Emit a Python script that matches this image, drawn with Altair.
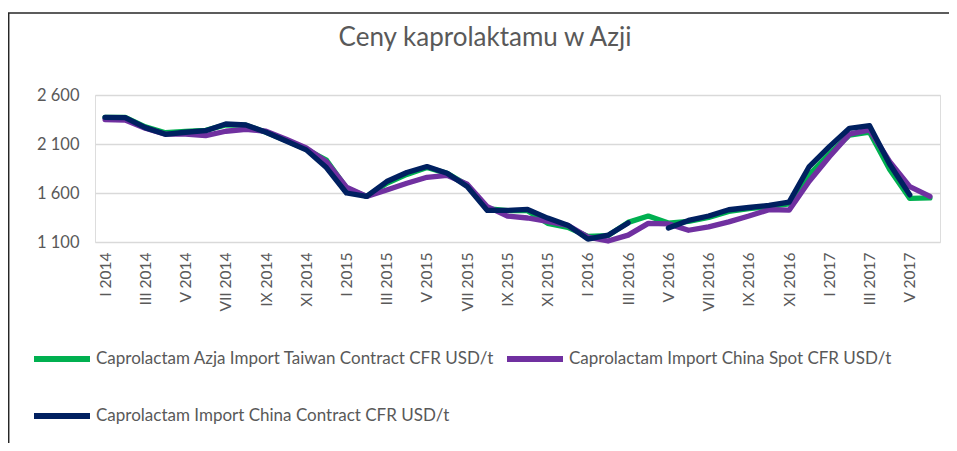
import altair as alt
import pandas as pd

title_text = "Ceny kaprolaktamu w Azji"
roman = ["I", "II", "III", "IV", "V", "VI", "VII", "VIII", "IX", "X", "XI", "XII"]
years = [2014, 2015, 2016, 2017]
months = [f"{m} {y}" for y in years for m in roman][:42]

series_names = [
    "Caprolactam Azja Import Taiwan Contract CFR USD/t",
    "Caprolactam Import China Spot CFR USD/t",
    "Caprolactam Import China Contract CFR USD/t",
]
colors = ["#00b050", "#7030a0", "#002060"]

taiwan_contract = [2372, 2372, 2275, 2215, 2228, 2240, 2295, 2292, 2220, 2135,
                   2045, 1935, 1650, 1565, 1700, 1790, 1860, 1800, 1680, 1440,
                   1420, 1420, 1290, 1250, 1157, 1165, 1300, 1365, 1293, 1310,
                   1350, 1412, 1440, 1460, 1490, 1785, 2000, 2190, 2220, 1840,
                   1545, 1550]
china_spot = [2350, 2345, 2260, 2200, 2200, 2185, 2230, 2250, 2230, 2150,
              2060, 1920, 1660, 1565, 1630, 1700, 1760, 1780, 1690, 1460,
              1365, 1345, 1310, 1270, 1150, 1110, 1170, 1290, 1285, 1220,
              1255, 1305, 1365, 1430, 1425, 1720, 1970, 2200, 2245, 1920,
              1665, 1565]
china_contract = [2372, 2370, 2267, 2199, 2220, 2236, 2304, 2294, 2220, 2131,
                  2040, 1860, 1600, 1565, 1717, 1809, 1870, 1802, 1666, 1422,
                  1422, 1432, 1344, 1272, 1130, 1170, 1295, None, 1242, 1320,
                  1365, 1429, 1452, 1473, 1507, 1870, 2073, 2260, 2287, 1894,
                  1581, None]

y_ticks = [1100, 1600, 2100, 2600]

wide = pd.DataFrame({
    "month": months,
    series_names[0]: taiwan_contract,
    series_names[1]: china_spot,
    series_names[2]: china_contract,
})
df = wide.melt(id_vars="month", var_name="series", value_name="value")

FONT = "Lato"
GREY = "#595959"
W, H = 845, 147

lines = alt.Chart(df).mark_line(strokeWidth=5.3, strokeJoin="round", strokeCap="round").encode(
    x=alt.X("month:O", sort=months, title=None,
            scale=alt.Scale(type="point", padding=0.5),
            axis=alt.Axis(values=months[::2], labelAngle=270, labelColor=GREY,
                          labelFont=FONT, labelFontSize=15.5, labelPadding=10,
                          ticks=False, domain=False, grid=False)),
    y=alt.Y("value:Q", title=None,
            scale=alt.Scale(domain=[1100, 2600], nice=False, zero=False),
            axis=alt.Axis(values=y_ticks, labelExpr="replace(format(datum.value, ','), ',', ' ')",
                          labelColor=GREY, labelFont=FONT, labelFontSize=16.5,
                          labelPadding=16, ticks=False, domain=False,
                          gridColor="#d9d9d9", gridWidth=1.3)),
    color=alt.Color("series:N", sort=series_names,
                    scale=alt.Scale(domain=series_names, range=colors),
                    legend=alt.Legend(title=None, orient="none", legendX=-64, legendY=233,
                                      direction="horizontal", columns=2,
                                      symbolType="stroke", symbolSize=3136,
                                      symbolStrokeWidth=6, labelFont=FONT,
                                      labelFontSize=17, labelColor=GREY,
                                      labelLimit=1000, labelOffset=3,
                                      columnPadding=0, rowPadding=14)),
    order=alt.Order("month_idx:Q"),
).transform_calculate(month_idx="indexof(" + str(months) + ", datum.month)")

one = alt.Data(values=[{"t": title_text}])
title = alt.Chart(one).mark_text(font=FONT, fontSize=26, color=GREY,
                                 align="center", baseline="middle").encode(
    text="t:N", x=alt.value(390), y=alt.value(-57))

frame_left = alt.Chart(one).mark_rule(color="#262626", strokeWidth=1.5).encode(
    x=alt.value(-86.3), y=alt.value(-82), y2=alt.value(H + 220))
frame_top = alt.Chart(one).mark_rule(color="#262626", strokeWidth=1.5).encode(
    x=alt.value(-87), x2=alt.value(W + 30), y=alt.value(-82))

chart = alt.layer(lines, title, frame_left, frame_top).properties(
    width=W, height=H,
    autosize=alt.AutoSizeParams(type="none"),
    padding={"left": 87, "top": 87, "right": 9, "bottom": 201},
).configure_view(stroke=None).configure(font=FONT)

chart.save("out.html", embed_options={"renderer": "svg", "actions": False})
